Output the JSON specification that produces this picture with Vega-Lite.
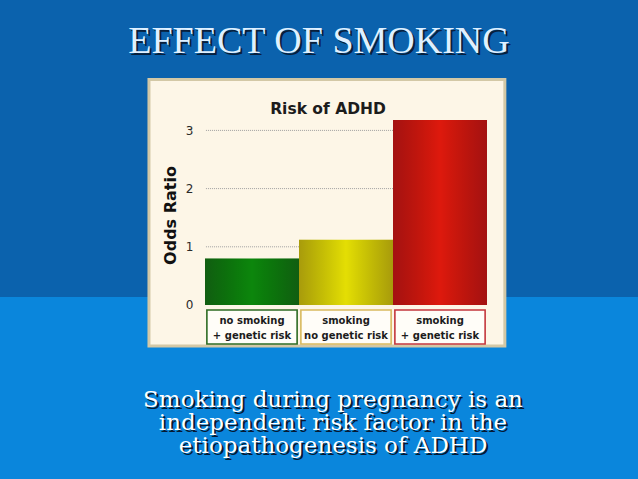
{
  "$schema": "https://vega.github.io/schema/vega-lite/v6.json",
  "width": 638,
  "height": 479,
  "padding": 0,
  "autosize": {"type": "none"},
  "background": "#0b62ad",
  "config": {"view": {"stroke": null}},
  "resolve": {"axis": {"x": "independent", "y": "independent"}},
  "datasets": {
    "bars": [
      {"group": "no smoking\n+ genetic risk", "odds": 0.80},
      {"group": "smoking\nno genetic risk", "odds": 1.12},
      {"group": "smoking\n+ genetic risk", "odds": 3.18}
    ],
    "ticks": [{"tick": 1}, {"tick": 2}, {"tick": 3}],
    "one": [{"part": "slide"}],
    "slideTitle": [{"label": "EFFECT OF SMOKING"}],
    "chartTitle": [{"label": "Risk of ADHD"}],
    "caption": [{"label": "Smoking during pregnancy is an\nindependent risk factor in the\netiopathogenesis of ADHD"}]
  },
  "layer": [
    {
      "data": {"name": "one"},
      "mark": {"type": "rect", "color": "#0a86dc"},
      "encoding": {
        "y": {"datum": -2.9897, "type": "quantitative", "scale": {"domain": [-2.9897, 5.2405], "nice": false, "zero": false}, "axis": null},
        "y2": {"datum": 0.1375}
      }
    },
    {
      "data": {"name": "one"},
      "mark": {"type": "rect", "fill": "#fdf6e7", "stroke": "#d3c8a6", "strokeWidth": 3},
      "encoding": {
        "x": {"datum": "no smoking\n+ genetic risk", "type": "nominal", "bandPosition": -0.596, "scale": {"domain": ["no smoking\n+ genetic risk", "smoking\nno genetic risk", "smoking\n+ genetic risk"], "range": [205, 487], "paddingInner": 0, "paddingOuter": 0}, "axis": null},
        "x2": {"datum": "smoking\n+ genetic risk", "bandPosition": 1.19},
        "y": {"datum": 3.875, "type": "quantitative", "axis": null},
        "y2": {"datum": -0.7045}
      }
    },
    {
      "data": {"name": "ticks"},
      "mark": {"type": "rule", "color": "#a0a0a0", "strokeWidth": 1, "strokeDash": [1, 1]},
      "encoding": {
        "x": {"datum": "no smoking\n+ genetic risk", "type": "nominal", "bandPosition": 0.01, "axis": null},
        "x2": {"datum": "smoking\n+ genetic risk", "bandPosition": 0.5},
        "y": {
          "field": "tick", "type": "quantitative",
          "axis": {
            "values": [0, 1, 2, 3], "offset": -193, "ticks": false, "tickSize": 0, "domain": false, "grid": false,
            "labelPadding": 0, "labelFont": "DejaVu Sans", "labelFontSize": 12, "labelColor": "#2a2a2a",
            "title": "Odds Ratio", "titleFont": "DejaVu Sans", "titleFontSize": 16, "titleFontWeight": "bold",
            "titleColor": "#111111", "titlePadding": 7, "titleY": 215, "zindex": 2
          }
        }
      }
    },
    {
      "data": {"name": "bars"},
      "mark": {"type": "bar"},
      "encoding": {
        "x": {"field": "group", "type": "nominal", "sort": null, "axis": null},
        "y": {"field": "odds", "type": "quantitative", "axis": null},
        "y2": {"datum": 0},
        "color": {
          "field": "group", "type": "nominal", "legend": null,
          "scale": {"domain": ["no smoking\n+ genetic risk", "smoking\nno genetic risk", "smoking\n+ genetic risk"], "range": ["#0c860c", "#e4de04", "#de190d"]}
        }
      }
    },
    {
      "data": {"name": "bars"},
      "mark": {
        "type": "bar",
        "color": {
          "gradient": "linear", "x1": 0, "x2": 1, "y1": 0, "y2": 0,
          "stops": [
            {"offset": 0, "color": "rgba(30,0,30,0.3)"},
            {"offset": 0.5, "color": "rgba(0,0,0,0)"},
            {"offset": 1, "color": "rgba(30,0,30,0.3)"}
          ]
        }
      },
      "encoding": {
        "x": {"field": "group", "type": "nominal", "sort": null, "axis": null},
        "y": {"field": "odds", "type": "quantitative", "axis": null},
        "y2": {"datum": 0}
      }
    },
    {
      "data": {"name": "bars"},
      "mark": {"type": "bar", "fill": "#fffdf8", "strokeWidth": 1.6, "width": {"band": 0.96}},
      "encoding": {
        "x": {"field": "group", "type": "nominal", "sort": null, "axis": null},
        "y": {"datum": -0.0859, "type": "quantitative", "axis": null},
        "y2": {"datum": -0.67},
        "stroke": {
          "field": "group", "type": "nominal", "legend": null,
          "scale": {"domain": ["no smoking\n+ genetic risk", "smoking\nno genetic risk", "smoking\n+ genetic risk"], "range": ["#2e6b22", "#d9b95e", "#c4363c"]}
        }
      }
    },
    {
      "data": {"name": "bars"},
      "mark": {"type": "text", "font": "DejaVu Sans", "fontSize": 10, "fontWeight": "bold", "lineBreak": "\n", "lineHeight": 15, "baseline": "middle", "align": "center", "color": "#1c1c1c"},
      "encoding": {
        "x": {"field": "group", "type": "nominal", "sort": null, "axis": null},
        "y": {"datum": -0.2835, "type": "quantitative", "axis": null},
        "text": {"field": "group"}
      }
    },
    {
      "data": {"name": "chartTitle"},
      "mark": {"type": "text", "font": "DejaVu Sans", "fontSize": 15.5, "fontWeight": "bold", "baseline": "middle", "align": "center", "color": "#1c1c1c", "dx": 9},
      "encoding": {
        "y": {"datum": 3.368, "type": "quantitative", "axis": null},
        "text": {"field": "label"}
      }
    },
    {
      "data": {"name": "slideTitle"},
      "mark": {"type": "text", "font": "Liberation Serif", "fontSize": 38, "baseline": "alphabetic", "align": "center", "color": "#081f3c", "dx": 2, "dy": 2},
      "encoding": {
        "y": {"datum": 4.33, "type": "quantitative", "axis": null},
        "text": {"field": "label"}
      }
    },
    {
      "data": {"name": "slideTitle"},
      "mark": {"type": "text", "font": "Liberation Serif", "fontSize": 38, "baseline": "alphabetic", "align": "center", "color": "#dff0ff"},
      "encoding": {
        "y": {"datum": 4.33, "type": "quantitative", "axis": null},
        "text": {"field": "label"}
      }
    },
    {
      "data": {"name": "caption"},
      "mark": {"type": "text", "font": "DejaVu Serif", "fontSize": 23, "lineBreak": "\n", "lineHeight": 23, "baseline": "alphabetic", "align": "center", "color": "#061a33", "dx": 16, "dy": 2},
      "encoding": {
        "y": {"datum": -1.7526, "type": "quantitative", "axis": null},
        "text": {"field": "label"}
      }
    },
    {
      "data": {"name": "caption"},
      "mark": {"type": "text", "font": "DejaVu Serif", "fontSize": 23, "lineBreak": "\n", "lineHeight": 23, "baseline": "alphabetic", "align": "center", "color": "#ffffff", "dx": 14},
      "encoding": {
        "y": {"datum": -1.7526, "type": "quantitative", "axis": null},
        "text": {"field": "label"}
      }
    }
  ]
}
